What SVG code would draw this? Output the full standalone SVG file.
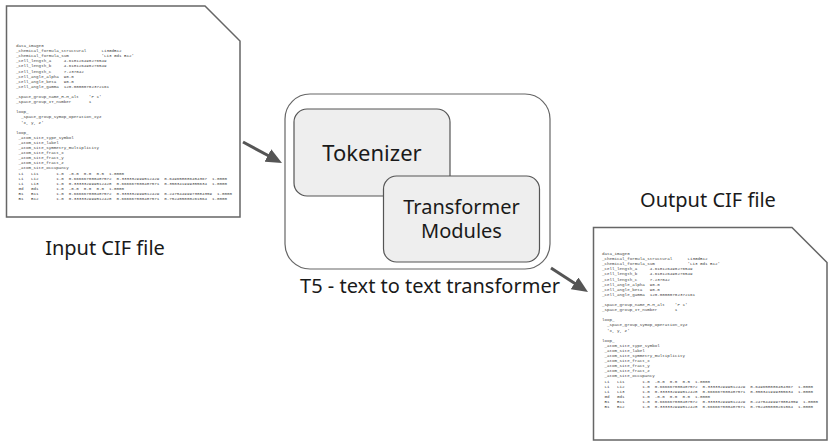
<svg xmlns="http://www.w3.org/2000/svg" width="834" height="445" viewBox="0 0 834 445">
<style>
.doc{fill:#ffffff;stroke:#666666;stroke-width:1.5}
.cif text{font-family:"Liberation Mono","DejaVu Sans Mono",monospace;font-size:4.2px;fill:#444444;white-space:pre}
.lbl{font-family:"Noto Sans","Open Sans",sans-serif;fill:#1a1a1a;text-anchor:middle}
.outer{fill:#ffffff;stroke:#666666;stroke-width:1.2}
.inner{fill:#eeeeee;stroke:#555555;stroke-width:1.2}
.conn{stroke:#555555;stroke-width:3;fill:none;marker-end:url(#ah)}
</style>
<defs>
<marker id="ah" viewBox="0 0 16 14" refX="6" refY="7" markerWidth="16" markerHeight="14" markerUnits="userSpaceOnUse" orient="auto">
<path d="M0,0 L16,7 L0,14 Z" fill="#555555"/>
</marker>
<g id="cif-text" class="cif">
<text xml:space="preserve" x="16" y="47">data_image0</text>
<text xml:space="preserve" x="16" y="52.1">_chemical_formula_structural      Li3GdB12</text>
<text xml:space="preserve" x="16" y="57.2">_chemical_formula_sum             'Li3 Gd1 B12'</text>
<text xml:space="preserve" x="16" y="62.3">_cell_length_a     4.618126490276549</text>
<text xml:space="preserve" x="16" y="67.4">_cell_length_b     4.618126490276549</text>
<text xml:space="preserve" x="16" y="72.5">_cell_length_c     7.237042</text>
<text xml:space="preserve" x="16" y="77.6">_cell_angle_alpha  90.0</text>
<text xml:space="preserve" x="16" y="82.7">_cell_angle_beta   90.0</text>
<text xml:space="preserve" x="16" y="87.8">_cell_angle_gamma  120.00000702372161</text>
<text xml:space="preserve" x="16" y="98">_space_group_name_H-M_alt    'P 1'</text>
<text xml:space="preserve" x="16" y="103.1">_space_group_IT_number       1</text>
<text xml:space="preserve" x="16" y="113.3">loop_</text>
<text xml:space="preserve" x="16" y="118.4">  _space_group_symop_operation_xyz</text>
<text xml:space="preserve" x="16" y="123.5">  'x, y, z'</text>
<text xml:space="preserve" x="16" y="133.7">loop_</text>
<text xml:space="preserve" x="16" y="138.8"> _atom_site_type_symbol</text>
<text xml:space="preserve" x="16" y="143.9"> _atom_site_label</text>
<text xml:space="preserve" x="16" y="149"> _atom_site_symmetry_multiplicity</text>
<text xml:space="preserve" x="16" y="154.1"> _atom_site_fract_x</text>
<text xml:space="preserve" x="16" y="159.2"> _atom_site_fract_y</text>
<text xml:space="preserve" x="16" y="164.3"> _atom_site_fract_z</text>
<text xml:space="preserve" x="16" y="169.4"> _atom_site_occupancy</text>
<text xml:space="preserve" x="16" y="174.5"> Li   Li1       1.0  -0.0  0.0  0.5  1.0000</text>
<text xml:space="preserve" x="16" y="179.6"> Li   Li2       1.0  0.666667000487572  0.333332999512429  0.649658086454367  1.0000</text>
<text xml:space="preserve" x="16" y="184.7"> Li   Li3       1.0  0.333332999512428  0.666667000487571  0.350341999355634  1.0000</text>
<text xml:space="preserve" x="16" y="189.8"> Gd   Gd1       1.0  -0.0  0.0  0.0  1.0000</text>
<text xml:space="preserve" x="16" y="194.9"> B1   B11       1.0  0.666667000487572  0.333332999512429  0.24754499973884359  1.0000</text>
<text xml:space="preserve" x="16" y="200"> B1   B12       1.0  0.333332999512428  0.666667000487571  0.752455000261564  1.0000</text>
</g>
</defs>

<g id="input-cif">
<path class="doc" d="M6.5,6 H205 L240,41 V217 H6.5 Z"/>
<use href="#cif-text"/>
<text class="lbl" x="105" y="255" font-size="20">Input CIF file</text>
</g>

<g id="t5">
<rect class="outer" x="285" y="94" width="265" height="175" rx="25" ry="25"/>
<text class="lbl" x="430" y="293" font-size="20">T5 - text to text transformer</text>
</g>

<g id="tokenizer">
<rect class="inner" x="294" y="109" width="156" height="87" rx="13" ry="13"/>
<text class="lbl" x="372" y="161" font-size="22">Tokenizer</text>
</g>

<g id="transformer-modules">
<rect class="inner" x="383.5" y="176" width="156" height="86" rx="13" ry="13"/>
<text class="lbl" x="461.5" y="214" font-size="20">Transformer</text>
<text class="lbl" x="461.5" y="238" font-size="20">Modules</text>
</g>

<g id="output-cif">
<path class="doc" d="M593.5,227.5 H792 L827,262.5 V440 H593.5 Z"/>
<use href="#cif-text" transform="translate(586,208)"/>
<text class="lbl" x="708" y="207" font-size="20">Output CIF file</text>
</g>

<g id="connectors">
<path class="conn" d="M243,142 L273.2,158.3"/>
<path class="conn" d="M551,268 L579.6,286.6"/>
</g>
</svg>
